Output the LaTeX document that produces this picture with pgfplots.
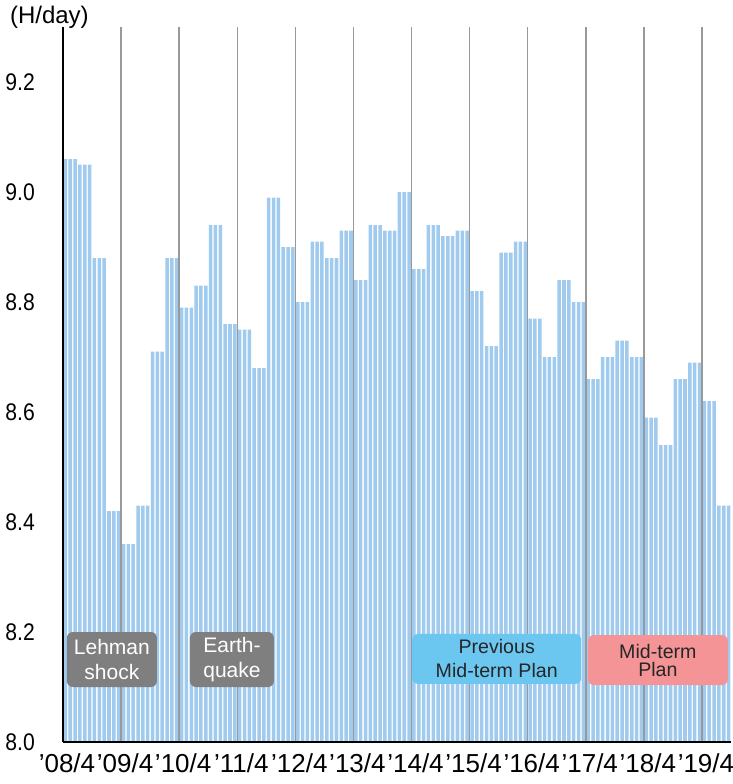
\documentclass[border=0pt]{standalone}
\usepackage{pgfplots}
\pgfplotsset{compat=1.18}
\usepackage{pgfplotstable}
\usetikzlibrary{calc}
\usepackage{fontspec}
\setmainfont{Liberation Sans}

\definecolor{barblue}{HTML}{A0CBEE}
\definecolor{gridgray}{HTML}{999999}
\definecolor{boxgray}{HTML}{7F7F7F}
\definecolor{boxblue}{HTML}{6CC7F0}
\definecolor{boxpink}{HTML}{F49496}
\definecolor{boxtext}{HTML}{262626}

% quarterly working hours per day, '08/4 - '19/7 (each quarter drawn as 3 monthly stripes)
\pgfplotstableread{
q val
0 9.06
1 9.05
2 8.88
3 8.42
4 8.36
5 8.43
6 8.71
7 8.88
8 8.79
9 8.83
10 8.94
11 8.76
12 8.75
13 8.68
14 8.99
15 8.90
16 8.80
17 8.91
18 8.88
19 8.93
20 8.84
21 8.94
22 8.93
23 9.00
24 8.86
25 8.94
26 8.92
27 8.93
28 8.82
29 8.72
30 8.89
31 8.91
32 8.77
33 8.70
34 8.84
35 8.80
36 8.66
37 8.70
38 8.73
39 8.70
40 8.59
41 8.54
42 8.66
43 8.69
44 8.62
45 8.43
}\hours

\begin{document}
\begin{tikzpicture}
\begin{axis}[
    name=ax,
    scale only axis,
    width=334pt, height=357.5pt,
    xmin=0, xmax=138,
    ymin=8, ymax=9.3,
    axis lines*=left,
    axis line style={black, line width=1pt, -},
    xtick={0,12,24,36,48,60,72,84,96,108,120,132},
    xticklabels={'08/4,'09/4,'10/4,'11/4,'12/4,'13/4,'14/4,'15/4,'16/4,'17/4,'18/4,'19/4},
    ytick={8.0,8.2,8.4,8.6,8.8,9.0,9.2},
    yticklabel style={/pgf/number format/fixed, /pgf/number format/fixed zerofill,
        /pgf/number format/precision=1, /pgf/number format/assume math mode=true,
        font=\fontsize{12}{12}\selectfont, anchor=east, xshift=-11pt, xscale=0.88},
    xticklabel style={font=\fontsize{13}{13}\selectfont, anchor=north, yshift=-2.5pt, xshift=2pt},
    major tick length=0pt,
    xmajorgrids,
    grid style={color=gridgray, line width=0.75pt},
    axis on top,
    bar width=0.73,
]
\addplot[ybar, bar shift=0pt, fill=barblue, draw=none] table[x expr=3*\thisrow{q}+0.5, y=val] {\hours};
\addplot[ybar, bar shift=0pt, fill=barblue, draw=none] table[x expr=3*\thisrow{q}+1.5, y=val] {\hours};
\addplot[ybar, bar shift=0pt, fill=barblue, draw=none] table[x expr=3*\thisrow{q}+2.5, y=val] {\hours};

\coordinate (sw) at (rel axis cs:0,0);
\coordinate (ne) at (rel axis cs:1,1);
\coordinate (b1) at (axis cs:10.1,8.15);
\coordinate (b2) at (axis cs:34.9,8.15);
\coordinate (b3) at (axis cs:89.6,8.151);
\coordinate (b4) at (axis cs:122.9,8.149);
\end{axis}

\node[anchor=west, font=\fontsize{12}{12}\selectfont] at ($(sw|-ne)+(-30pt,5pt)$) {(H/day)};

\node[fill=boxgray, rounded corners=3pt, minimum width=45pt, minimum height=27.5pt,
      inner sep=0pt, text=white, align=center,
      font=\fontsize{10.5}{12.5}\selectfont] at (b1) {Lehman\\shock};
\node[fill=boxgray, rounded corners=3pt, minimum width=42pt, minimum height=27.5pt,
      inner sep=0pt, text=white, align=center,
      font=\fontsize{10.5}{12.5}\selectfont] at (b2) {Earth-\\quake};
\node[fill=boxblue, rounded corners=3pt, minimum width=84.5pt, minimum height=25pt,
      inner sep=0pt, text=boxtext, align=center,
      font=\fontsize{9.8}{12}\selectfont] at (b3) {Previous\\Mid-term Plan};
\node[fill=boxpink, rounded corners=3pt, minimum width=70pt, minimum height=25pt,
      inner sep=0pt, text=boxtext, align=center,
      font=\fontsize{9.8}{9}\selectfont] at (b4) {Mid-term\\Plan};

\pgfresetboundingbox
\path[use as bounding box] ($(sw)+(-31.5pt,-21pt)$) rectangle ($(ne)+(1pt,13.5pt)$);
\end{tikzpicture}
\end{document}
